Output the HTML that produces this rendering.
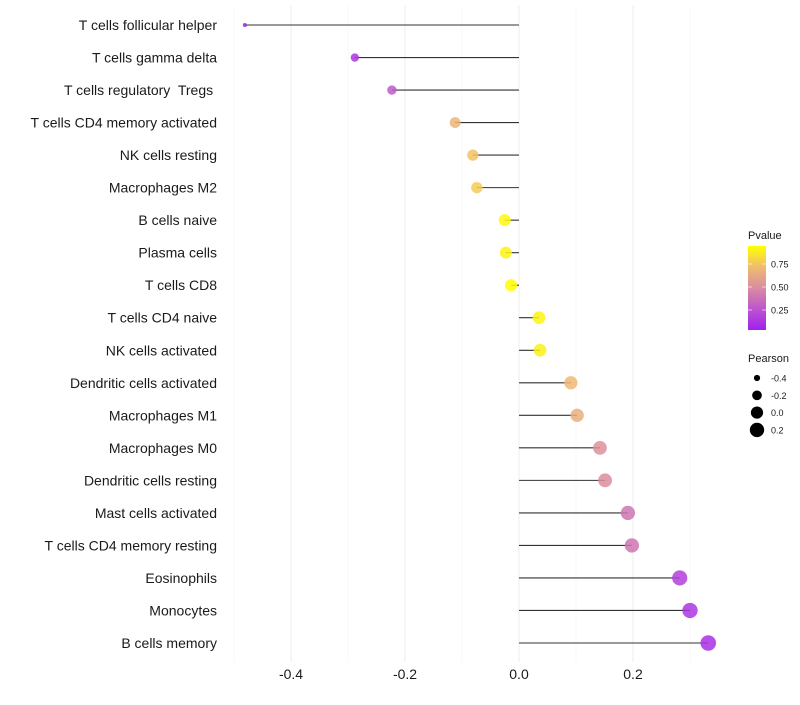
<!DOCTYPE html>
<html><head><meta charset="utf-8"><style>
body{margin:0;background:#fff;font-family:"Liberation Sans",sans-serif}
svg text{font-family:"Liberation Sans",sans-serif;white-space:pre}
</style></head><body>
<svg id="chart" width="800" height="700"></svg>
<script>
const categories=["T cells follicular helper","T cells gamma delta","T cells regulatory  Tregs ","T cells CD4 memory activated","NK cells resting","Macrophages M2","B cells naive","Plasma cells","T cells CD8","T cells CD4 naive","NK cells activated","Dendritic cells activated","Macrophages M1","Macrophages M0","Dendritic cells resting","Mast cells activated","T cells CD4 memory resting","Eosinophils","Monocytes","B cells memory"];
const pearson=[-0.481,-0.288,-0.223,-0.112,-0.081,-0.074,-0.025,-0.023,-0.014,0.035,0.037,0.091,0.102,0.142,0.151,0.191,0.198,0.282,0.300,0.332];
const pvalue=[0.03,0.12,0.28,0.68,0.74,0.78,0.93,0.91,0.95,0.92,0.90,0.70,0.66,0.52,0.50,0.40,0.40,0.16,0.13,0.10];
const xTicks=[-0.4,-0.2,0.0,0.2];
const xMinor=[-0.5,-0.3,-0.1,0.1,0.3];
const pTicks=[0.25,0.50,0.75];
const sizeTicks=[-0.4,-0.2,0.0,0.2];
const NS="http://www.w3.org/2000/svg";
const svg=document.getElementById('chart');
function mk(t,a,p){const e=document.createElementNS(NS,t);for(const k in a)e.setAttribute(k,a[k]);(p||svg).appendChild(e);return e;}
const x=v=>519+v*570;
const y=i=>25+i*(618/19);
const r=v=>Math.sqrt(Math.max(1,4+70*(v+0.48)));
const stops=[[160,32,240],[190,85,205],[217,140,160],[240,188,112],[255,255,0]];
function col(p){let t=(p-0.03)/(0.95-0.03);t=Math.max(0,Math.min(1,t))*4;const i=Math.min(3,Math.floor(t)),f=t-i;const a=stops[i],b=stops[i+1];return `rgb(${a.map((c,k)=>Math.round(c+(b[k]-c)*f)).join(',')})`;}
const grid=mk('g',{});

xMinor.forEach(v=>{const l=mk('line',{x1:x(v),x2:x(v),y1:5,y2:662,stroke:'#f5f5f5','stroke-width':0.6},grid);});
xTicks.forEach(v=>{const l=mk('line',{x1:x(v),x2:x(v),y1:5,y2:662,stroke:'#efefef','stroke-width':1.1},grid);
const t=mk('text',{x:x(v),y:679,'text-anchor':'middle','font-size':14,fill:'#1a1a1a'});t.textContent=v.toFixed(1);});
categories.forEach((c,i)=>{
const t=mk('text',{x:217,y:y(i)+5,'text-anchor':'end','font-size':14,fill:'#1a1a1a'});t.textContent=c;

const l=mk('line',{x1:x(0),x2:x(pearson[i]),y1:y(i),y2:y(i),stroke:'#333','stroke-width':1.1});

const d=mk('circle',{cx:x(pearson[i]),cy:y(i),r:r(pearson[i]),fill:col(pvalue[i]),'fill-opacity':0.85});

});
const lg=mk('g',{});
const lt=mk('text',{x:748,y:239,'font-size':11,fill:'#1a1a1a'},lg);lt.textContent='Pvalue';
const defs=mk('defs',{});const gr=mk('linearGradient',{id:'pg',x1:0,y1:1,x2:0,y2:0},defs);
for(let k=0;k<=10;k++){mk('stop',{offset:k/10,'stop-color':col(0.03+k/10*(0.95-0.03))},gr);}
const bar=mk('rect',{x:748,y:246,width:18,height:84,fill:'url(#pg)'},lg);
pTicks.forEach(p=>{const yy=310-(p-0.25)/0.25*23;mk('line',{x1:748,x2:752,y1:yy,y2:yy,stroke:'#fff','stroke-opacity':0.6},lg);mk('line',{x1:762,x2:766,y1:yy,y2:yy,stroke:'#fff','stroke-opacity':0.6},lg);
const t=mk('text',{x:771,y:yy+3.5,'font-size':9,fill:'#1a1a1a'},lg);t.textContent=p.toFixed(2);});
const sg=mk('g',{});
const st=mk('text',{x:748,y:362,'font-size':11,fill:'#1a1a1a'},sg);st.textContent='Pearson';
sizeTicks.forEach((v,k)=>{const yy=378+k*17.3;const c=mk('circle',{cx:757,cy:yy,r:r(v),fill:'#000'},sg);
const t=mk('text',{x:771,y:yy+3.5,'font-size':9,fill:'#1a1a1a'},sg);t.textContent=v.toFixed(1);});
</script>
</body></html>
